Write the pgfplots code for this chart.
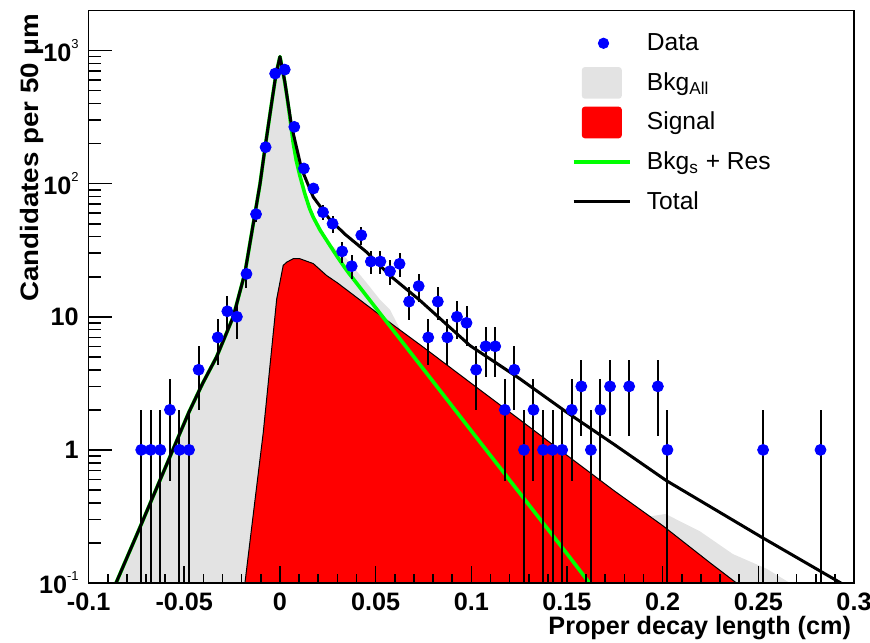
\documentclass[border=0pt]{standalone}
\usepackage{pgfplots}
\pgfplotsset{compat=1.18}
\usepackage{fontspec}
\setmainfont{Liberation Sans}
\definecolor{bkggray}{HTML}{E3E3E3}
\definecolor{sigred}{HTML}{FF0000}
\definecolor{resgreen}{HTML}{00FF00}
\definecolor{datablue}{HTML}{0000FF}
\newcommand{\ex}[1]{\raisebox{6.5pt}{\mdseries\fontsize{6.5}{7}\selectfont #1}}
\newcommand{\lblfont}{\bfseries\fontsize{12.6}{14}\selectfont}

\pgfplotstableread{
x y
-0.0900 0.071
-0.0862 0.096
-0.0735 0.255
-0.0628 0.587
-0.0527 1.29
-0.0475 1.93
-0.0404 3.16
-0.0331 5.0
-0.0244 10
-0.0183 21.4
-0.0131 58.9
-0.0104 100
-0.0078 186
-0.0042 417
-0.0021 661
0.0000 900
0.0025 589
0.0061 269
0.0113 129
0.0174 79.4
0.0261 53.7
0.0340 41.7
0.0453 30.6
0.0575 20.4
0.0731 13.3
0.0993 6.08
0.1254 3.42
0.1498 1.92
0.1750 1.09
0.2020 0.587
0.2517 0.221
0.2926 0.101
0.3000 0.087
}\totaltab

\pgfplotstableread{
x y
-0.0900 0.071
-0.0862 0.096
-0.0735 0.255
-0.0628 0.587
-0.0527 1.29
-0.0475 1.93
-0.0404 3.16
-0.0331 5.0
-0.0244 10
-0.0183 21.4
-0.0131 58.9
-0.0104 100
-0.0078 186
-0.0042 417
-0.0021 661
0.0000 900
0.0015 700
0.0025 580
0.0035 470
0.0050 330
0.0069 204
0.0085 150
0.0104 115
0.0130 84
0.0155 65
0.0174 56
0.0210 44.7
0.0261 34.4
0.0300 28.2
0.0348 22.4
0.0500 11.7
0.0750 4.04
0.1000 1.39
0.1250 0.48
0.1500 0.166
0.1615 0.101
0.1630 0.095
}\greentab

\pgfplotstableread{
x y
-0.0900 0.05
-0.0900 0.071
-0.0862 0.096
-0.0735 0.255
-0.0628 0.587
-0.0527 1.29
-0.0475 1.93
-0.0404 3.16
-0.0331 5.0
-0.0244 10
-0.0183 21.4
-0.0131 58.9
-0.0104 100
-0.0078 186
-0.0042 417
-0.0021 661
0.0000 900
0.0015 700
0.0025 580
0.0035 470
0.0050 330
0.0069 204
0.0085 150
0.0104 115
0.0130 84
0.0155 65
0.0174 56
0.0210 44.7
0.0261 35.5
0.0348 27.3
0.0450 18.2
0.0520 13.6
0.0575 11.3
0.0650 7.0
0.0731 5.6
0.1000 2.9
0.1500 0.85
0.1930 0.316
0.2015 0.33
0.2194 0.245
0.2367 0.165
0.2543 0.128
0.2665 0.1
0.2700 0.089
0.2700 0.05
}\graytab

\pgfplotstableread{
x y
-0.0195 0.05
-0.0183 0.1
-0.0135 0.37
-0.0087 1.36
-0.0050 4.6
-0.0017 13.6
0.0017 24.3
0.0035 25.7
0.0069 27.3
0.0104 27.3
0.0174 25.1
0.0244 20.4
0.0300 18.0
0.0400 14.0
0.0500 10.9
0.0600 8.5
0.0750 5.9
0.1000 3.16
0.1250 1.70
0.1500 0.91
0.1750 0.489
0.2000 0.270
0.2250 0.141
0.2386 0.1
0.2450 0.085
0.2450 0.05
}\redtab

\begin{document}
\begin{tikzpicture}
\begin{axis}[
  scale only axis, width=382.7pt, height=286.25pt,
  xmin=-0.1, xmax=0.3, ymode=log, ymin=0.1, ymax=2000,
  xtick=\empty,
  ytick={0.1,1,10,100,1000},
  yticklabels={10\ex{-1},1,10,10\ex{2},10\ex{3}},
  minor ytick={0.2,0.3,0.4,0.5,0.6,0.7,0.8,0.9,2,3,4,5,6,7,8,9,20,30,40,50,60,70,80,90,200,300,400,500,600,700,800,900,2000},
  tick pos=left, tick align=inside,
  major tick length=11.5pt, minor tick length=6pt,
  axis line style={line width=0.8pt},
  every tick/.style={black, line width=0.8pt},
  yticklabel style={font=\lblfont, inner sep=0pt, anchor=east, xshift=-4.8pt},
  ylabel={\scalebox{1.1}[1]{Candidates per 50 μm}},
  ylabel style={font=\lblfont, inner sep=0pt, at={(rel axis cs:-0.0739,0.995)}, anchor=east, rotate=0},
  legend cell align=left,
  legend style={draw=none, fill=none, at={(rel axis cs:0.6312,0.9773)}, anchor=north west,
    inner sep=0pt, outer sep=0pt, row sep=0pt, column sep=7.5pt,
    nodes={inner sep=0pt}, font=\fontsize{12.3}{13}\selectfont},
]
\addlegendimage{legend image code/.code={\path[draw=none,fill=none] (0pt,-9.9pt) rectangle (28.3pt,9.9pt); \fill[datablue] (15pt,0pt) circle (2.6pt);}}
\addlegendentry{Data}
\addlegendimage{legend image code/.code={\path[draw=none,fill=none] (0pt,-9.9pt) rectangle (28.3pt,9.9pt); \fill[bkggray, draw=none, rounded corners=1.5pt] (4.15pt,-7.9pt) rectangle (24.15pt,7.9pt);}}
\addlegendentry{Bkg\textsubscript{All}}
\addlegendimage{legend image code/.code={\path[draw=none,fill=none] (0pt,-9.9pt) rectangle (28.3pt,9.9pt); \fill[sigred, draw=none, rounded corners=1.5pt] (4.15pt,-7.9pt) rectangle (24.15pt,7.9pt);}}
\addlegendentry{Signal}
\addlegendimage{legend image code/.code={\path[draw=none,fill=none] (0pt,-9.9pt) rectangle (28.3pt,9.9pt); \draw[resgreen, line width=1.8pt] (0pt,0pt) -- (28.3pt,0pt);}}
\addlegendentry{Bkg\textsubscript{s} + Res}
\addlegendimage{legend image code/.code={\path[draw=none,fill=none] (0pt,-9.9pt) rectangle (28.3pt,9.9pt); \draw[black, line width=1.5pt] (0pt,0pt) -- (28.3pt,0pt);}}
\addlegendentry{Total}

\addplot[forget plot, draw=none, fill=bkggray] table[x=x,y=y] {\graytab};
\addplot[forget plot, draw=black, line width=0.5pt, fill=sigred] table[x=x,y=y] {\redtab};
\addplot[forget plot, resgreen, line width=1.8pt, line join=round] table[x=x,y=y] {\greentab};
\addplot[forget plot, black, line width=1.5pt, line join=round] table[x=x,y=y] {\totaltab};
\addplot[forget plot, only marks, mark=*, mark size=2.75pt, mark options={fill=datablue, draw=datablue},
  error bars/.cd, y dir=both, y explicit, error mark=none,
  error bar style={line width=1pt, black}]
coordinates {
(-0.0725,1) +=(0,1) -=(0,0.999)
(-0.0675,1) +=(0,1) -=(0,0.999)
(-0.0625,1) +=(0,1) -=(0,0.999)
(-0.0575,2) +=(0,1.414) -=(0,1.414)
(-0.0525,1) +=(0,1) -=(0,0.999)
(-0.0475,1) +=(0,1) -=(0,0.999)
(-0.0425,4) +=(0,2) -=(0,2)
(-0.0325,7) +=(0,2.646) -=(0,2.646)
(-0.0275,11) +=(0,3.317) -=(0,3.317)
(-0.0225,10) +=(0,3.162) -=(0,3.162)
(-0.0175,21) +=(0,4.583) -=(0,4.583)
(-0.0125,59) +=(0,7.681) -=(0,7.681)
(-0.0075,188) +=(0,13.71) -=(0,13.71)
(-0.0025,671) +=(0,25.9) -=(0,25.9)
(0.0025,719) +=(0,26.81) -=(0,26.81)
(0.0075,267) +=(0,16.34) -=(0,16.34)
(0.0125,130) +=(0,11.40) -=(0,11.40)
(0.0175,92) +=(0,9.59) -=(0,9.59)
(0.0225,61) +=(0,7.81) -=(0,7.81)
(0.0275,50) +=(0,7.07) -=(0,7.07)
(0.0325,31) +=(0,5.57) -=(0,5.57)
(0.0375,24) +=(0,4.90) -=(0,4.90)
(0.0425,41) +=(0,6.40) -=(0,6.40)
(0.0475,26) +=(0,5.10) -=(0,5.10)
(0.0525,26) +=(0,5.10) -=(0,5.10)
(0.0575,22) +=(0,4.69) -=(0,4.69)
(0.0625,25) +=(0,5) -=(0,5)
(0.0675,13) +=(0,3.61) -=(0,3.61)
(0.0725,17) +=(0,4.12) -=(0,4.12)
(0.0775,7) +=(0,2.65) -=(0,2.65)
(0.0825,13) +=(0,3.61) -=(0,3.61)
(0.0875,7) +=(0,2.65) -=(0,2.65)
(0.0925,10) +=(0,3.16) -=(0,3.16)
(0.0975,9) +=(0,3) -=(0,3)
(0.1025,4) +=(0,2) -=(0,2)
(0.1075,6) +=(0,2.45) -=(0,2.45)
(0.1125,6) +=(0,2.45) -=(0,2.45)
(0.1175,2) +=(0,1.414) -=(0,1.414)
(0.1225,4) +=(0,2) -=(0,2)
(0.1275,1) +=(0,1) -=(0,0.999)
(0.1325,2) +=(0,1.414) -=(0,1.414)
(0.1375,1) +=(0,1) -=(0,0.999)
(0.1425,1) +=(0,1) -=(0,0.999)
(0.1475,1) +=(0,1) -=(0,0.999)
(0.1525,2) +=(0,1.414) -=(0,1.414)
(0.1575,3) +=(0,1.732) -=(0,1.732)
(0.1625,1) +=(0,1) -=(0,0.999)
(0.1675,2) +=(0,1.414) -=(0,1.414)
(0.1725,3) +=(0,1.732) -=(0,1.732)
(0.1825,3) +=(0,1.732) -=(0,1.732)
(0.1975,3) +=(0,1.732) -=(0,1.732)
(0.2025,1) +=(0,1) -=(0,0.999)
(0.2525,1) +=(0,1) -=(0,0.999)
(0.2825,1) +=(0,1) -=(0,0.999)
};
\end{axis}
\begin{axis}[
  scale only axis, width=382.7pt, height=286.25pt,
  xmin=-0.1, xmax=0.3, ymin=0, ymax=1,
  hide y axis,
  xtick={-0.1,-0.05,0,0.05,0.1,0.15,0.2,0.25,0.3},
  xticklabels={-0.1,-0.05,0,0.05,0.1,0.15,0.2,0.25,0.3},
  minor x tick num=4,
  xtick pos=left, tick align=inside,
  major tick length=8.5pt, minor tick length=4.5pt,
  axis line style={line width=0.8pt},
  every tick/.style={black, line width=0.8pt},
  xticklabel style={font=\lblfont, inner sep=0pt, anchor=north, yshift=-4.5pt},
  xlabel={Proper decay length (cm)},
  xlabel style={font=\lblfont, inner sep=0pt, at={(rel axis cs:0.9965,-0.0786)}, anchor=east},
]
\end{axis}
\pgfresetboundingbox
\path[use as bounding box] (-44.3pt,-29.5pt) rectangle (390.7pt,291.5pt);
\end{tikzpicture}
\end{document}
